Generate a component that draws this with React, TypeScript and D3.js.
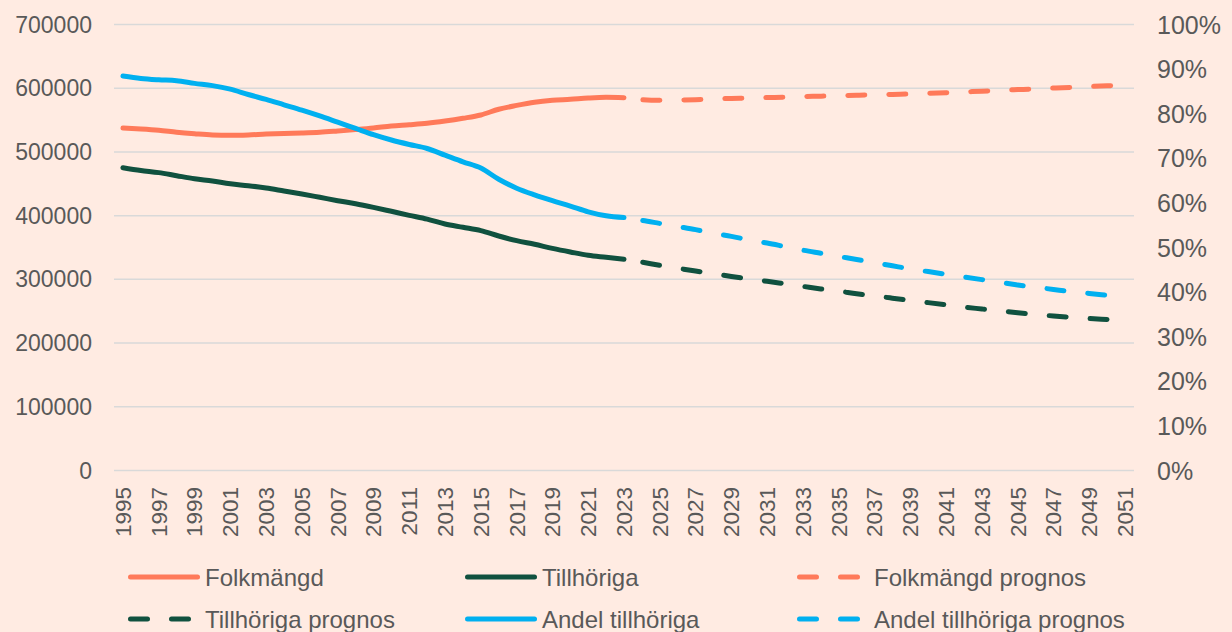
import * as d3 from "d3";

// categories
const years = d3.range(1995, 2052);
const histYears = d3.range(1995, 2024);
const progYears = d3.range(2023, 2052);
const tickYears = years.filter((y) => (y - 1995) % 2 === 0);

// history 1995-2023
const folkmangd = [537500, 536000, 534000, 531000, 528600, 526600, 526000, 526600, 528000, 529000, 529700, 530800, 532800, 535000, 537500, 540700, 542700, 545000, 548500, 552800, 558000, 567000, 573000, 578000, 581000, 582600, 584600, 585700, 585000];
const tillhoriga = [475300, 471000, 467500, 462700, 458000, 454400, 450000, 447000, 443400, 438700, 434000, 428800, 423500, 418700, 413000, 406800, 400500, 394500, 386900, 381700, 376400, 368000, 360700, 355000, 348700, 343000, 337700, 334600, 331500];
const andel = [88.45, 87.9, 87.6, 87.4, 86.8, 86.3, 85.5, 84.3, 83.2, 82.0, 80.8, 79.5, 78.1, 76.7, 75.3, 74.1, 73.1, 72.2, 70.7, 69.2, 67.8, 65.3, 63.3, 61.8, 60.5, 59.3, 58.0, 57.1, 56.7];

// forecast 2023-2051
const folkPrognos = [585000, 582000, 581000, 581500, 582000, 583000, 584000, 584500, 585300, 586000, 587000, 587500, 588300, 589000, 589500, 590300, 591000, 592000, 593000, 594200, 595300, 596600, 597800, 599000, 600200, 601400, 602600, 603800, 605000];
const tillPrognos = [331500, 327000, 322000, 317500, 313000, 309000, 304500, 300500, 297000, 293000, 289000, 285000, 281500, 277500, 274000, 270500, 267000, 263500, 260000, 256500, 253500, 250500, 247500, 245000, 242500, 240500, 238500, 237000, 235500];
const andelPrognos = [56.7, 56.1, 55.4, 54.7, 54.0, 53.2, 52.5, 51.7, 51.0, 50.2, 49.4, 48.7, 48.0, 47.3, 46.6, 45.9, 45.2, 44.6, 44.0, 43.4, 42.8, 42.2, 41.6, 41.1, 40.6, 40.1, 39.7, 39.3, 38.9];

const leftTicks = [0, 100000, 200000, 300000, 400000, 500000, 600000, 700000];
const rightTicks = [0, 10, 20, 30, 40, 50, 60, 70, 80, 90, 100];

const ORANGE = "#ff7a5a";
const GREEN = "#10513f";
const BLUE = "#00b0f0";
const TEXT = "#595959";
const FONT = "Arial, 'Liberation Sans', sans-serif";

const W = 1232;
const H = 632;

export default function App() {
  const x = d3.scaleBand<number>().domain(years).range([114, 1134]);
  const cx = (yr: number) => (x(yr) ?? 0) + x.bandwidth() / 2;
  const yL = d3.scaleLinear().domain([0, 700000]).range([470.5, 24.5]);
  const yR = d3.scaleLinear().domain([0, 100]).range([470.5, 24.5]);

  const line = (ys: number[], yrs: number[], scale: d3.ScaleLinear<number, number>) =>
    d3
      .line<number>()
      .x((_, i) => cx(yrs[i]))
      .y((d) => scale(d))
      .curve(d3.curveMonotoneX)(ys) ?? "";

  const series = [
    { d: line(folkmangd, histYears, yL), color: ORANGE, dash: false },
    { d: line(tillhoriga, histYears, yL), color: GREEN, dash: false },
    { d: line(andel, histYears, yR), color: BLUE, dash: false },
    { d: line(folkPrognos, progYears, yL), color: ORANGE, dash: true },
    { d: line(tillPrognos, progYears, yL), color: GREEN, dash: true },
    { d: line(andelPrognos, progYears, yR), color: BLUE, dash: true },
  ];

  const legend = [
    { label: "Folkmängd", color: ORANGE, dash: false, lx: 128, tx: 205, y: 577 },
    { label: "Tillhöriga", color: GREEN, dash: false, lx: 465, tx: 542, y: 577 },
    { label: "Folkmängd prognos", color: ORANGE, dash: true, lx: 797, tx: 874, y: 577 },
    { label: "Tillhöriga prognos", color: GREEN, dash: true, lx: 128, tx: 205, y: 619 },
    { label: "Andel tillhöriga", color: BLUE, dash: false, lx: 465, tx: 542, y: 619 },
    { label: "Andel tillhöriga prognos", color: BLUE, dash: true, lx: 797, tx: 874, y: 619 },
  ];

  return (
    <svg
      width={W}
      height={H}
      style={{ position: "absolute", left: 0, top: 0, display: "block" }}
      fontFamily={FONT}
    >
      <rect width={W} height={H} fill="#ffebe2" />

      {/* gridlines */}
      {leftTicks.map((t) => (
        <line key={t} x1={114} x2={1134} y1={yL(t)} y2={yL(t)} stroke="#d9d9d9" strokeWidth={1.5} />
      ))}

      {/* left axis */}
      {leftTicks.map((t) => (
        <text key={t} x={92} y={yL(t)} dy="0.35em" textAnchor="end" fontSize={23} fill={TEXT}>
          {t}
        </text>
      ))}

      {/* right axis */}
      {rightTicks.map((t) => (
        <text key={t} x={1157} y={yR(t)} dy="0.36em" textAnchor="start" fontSize={25} fill={TEXT}>
          {t}%
        </text>
      ))}

      {/* x labels */}
      {tickYears.map((yr) => (
        <text
          key={yr}
          transform={`translate(${cx(yr)},487) rotate(-90)`}
          dy="0.35em"
          textAnchor="end"
          fontSize={22.5}
          fill={TEXT}
        >
          {yr}
        </text>
      ))}

      {/* lines */}
      {series.map((s, i) => (
        <path
          key={i}
          d={s.d}
          fill="none"
          stroke={s.color}
          strokeWidth={5}
          strokeLinecap="round"
          strokeLinejoin="round"
          strokeDasharray={s.dash ? "17 24" : undefined}
          strokeDashoffset={s.dash ? 22 : undefined}
        />
      ))}

      {/* legend */}
      {legend.map((l) => (
        <g key={l.label}>
          <line
            x1={l.lx + 2.5}
            x2={l.dash ? l.lx + 63.5 : l.lx + 69.5}
            y1={l.y}
            y2={l.y}
            stroke={l.color}
            strokeWidth={5}
            strokeLinecap="round"
            strokeDasharray={l.dash ? "17 24" : undefined}
          />
          <text x={l.tx} y={l.y} dy="0.36em" fontSize={24} fill={TEXT}>
            {l.label}
          </text>
        </g>
      ))}
    </svg>
  );
}
